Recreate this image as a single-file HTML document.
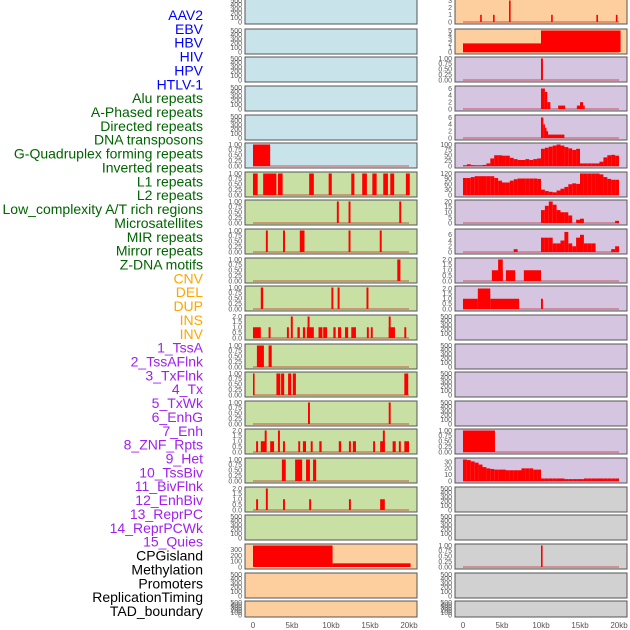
<!DOCTYPE html>
<html><head><meta charset="utf-8"><style>
html,body{margin:0;padding:0;background:#fff;}
svg{display:block;font-family:"Liberation Sans",sans-serif;}
</style></head><body>
<svg id="chart" width="630" height="630" viewBox="0 0 630 630" xmlns="http://www.w3.org/2000/svg"></svg>
<script>
// ---- data ----
const trackLabels = ["AAV2","EBV","HBV","HIV","HPV","HTLV-1","Alu repeats","A-Phased repeats","Directed repeats","DNA transposons","G-Quadruplex forming repeats","Inverted repeats","L1 repeats","L2 repeats","Low_complexity A/T rich regions","Microsatellites","MIR repeats","Mirror repeats","Z-DNA motifs","CNV","DEL","DUP","INS","INV","1_TssA","2_TssAFlnk","3_TxFlnk","4_Tx","5_TxWk","6_EnhG","7_Enh","8_ZNF_Rpts","9_Het","10_TssBiv","11_BivFlnk","12_EnhBiv","13_ReprPC","14_ReprPCWk","15_Quies","CPGisland","Methylation","Promoters","ReplicationTiming","TAD_boundary"];
const labelColors = ["#0000ff","#0000ff","#0000ff","#0000ff","#0000ff","#0000ff","#006400","#006400","#006400","#006400","#006400","#006400","#006400","#006400","#006400","#006400","#006400","#006400","#006400","#ffa500","#ffa500","#ffa500","#ffa500","#ffa500","#a020f0","#a020f0","#a020f0","#a020f0","#a020f0","#a020f0","#a020f0","#a020f0","#a020f0","#a020f0","#a020f0","#a020f0","#a020f0","#a020f0","#a020f0","#000","#000","#000","#000","#000"];
const xTicks = [0,5,10,15,20];
const xTickLabels = ["0","5kb","10kb","15kb","20kb"];
// bars: [startKb, endKb, value]
const L6 = [[0,2.2,1]];
const L7 = [[0,0.6,1],[1.3,3.0,1],[3.2,3.8,1],[7.2,7.8,1],[9.7,10.1,1],[12.6,13.0,1],[14.0,14.6,1],[15.3,15.85,1],[16.7,17.3,1],[17.6,18.1,1],[19.6,20.1,1]];
const L8 = [[10.75,11.0,1],[12.25,12.5,1],[18.75,19.0,1]];
const L9 = [[1.65,1.9,1],[3.85,4.1,1],[6.0,6.6,1],[12.25,12.5,1],[16.25,16.5,1]];
const L10 = [[18.5,18.9,1]];
const L11 = [[1.0,1.3,1],[10.05,10.3,1],[10.85,11.1,1],[14.55,14.8,1]];
const L12 = [[0,1.0,1],[2.0,2.25,1],[4.35,4.6,1],[4.85,5.1,2],[5.7,6.0,1],[6.4,6.7,1],[6.9,7.8,1],[7.0,7.25,2],[8.4,8.9,1],[9.0,9.5,1],[10.3,10.6,1],[10.9,11.3,1],[11.8,12.2,1],[12.6,13.2,1],[14.6,14.85,1],[15.1,15.35,1],[17.4,18.2,1],[17.4,17.65,2],[19.4,19.65,1]];
const L13 = [[0.5,1.4,1],[2.0,2.4,1]];
const L14 = [[0,0.2,1],[3.0,3.5,1],[3.6,4.0,1],[4.5,4.9,1],[5.1,5.5,1],[19.4,19.9,1]];
const L15 = [[7.05,7.3,1],[17.4,17.65,1]];
const L16 = [[0.4,0.65,1],[1.0,1.25,1],[1.1,1.7,1],[1.5,1.75,2],[2.2,2.7,1],[3.2,3.45,2],[3.85,4.1,1],[5.8,6.05,1],[6.4,6.8,1],[7.4,7.65,1],[8.5,8.8,1],[11.0,11.3,1],[12.3,12.55,1],[12.8,13.2,1],[15.4,15.65,1],[16.3,16.9,1],[16.65,16.9,2],[17.9,18.3,1],[18.7,18.95,1],[19.4,20.0,1]];
const L17 = [[3.7,4.2,1],[5.4,6.3,1],[6.8,7.3,1],[7.7,8.1,1]];
const L18 = [[0.4,0.65,1],[1.65,1.9,2],[3.85,4.1,1],[7.2,7.45,1],[12.3,12.55,1],[16.3,16.9,1]];
const L20 = [[0,10.2,375],[10.2,20.2,64]];
const R1 = [[2.2,2.4,1],[3.85,4.05,1],[5.9,6.1,3],[11.3,11.5,1],[17.1,17.3,1],[19.6,19.8,1]];
const R2 = [[0,10.0,2],[10.0,20.2,5]];
const R3 = [[10.0,10.25,1]];
const R4 = [[10.0,10.5,6],[10.5,10.8,5],[10.8,11.2,2],[12.2,13.1,1],[14.6,15.0,1],[15.0,15.4,2],[15.4,15.6,1]];
const R5 = [[10.0,10.3,6],[10.3,10.5,4],[10.5,10.7,3],[10.7,10.9,2],[10.9,13.0,1]];
// binned profiles (0.5 kb bins from 0 to 20 kb)
const R6 = [3,8,4,3,3,5,12,35,50,50,48,48,38,32,28,28,32,28,32,35,80,85,90,95,100,95,88,82,75,80,12,12,12,12,12,20,40,50,52,48];
const R7 = [95,95,100,105,105,105,105,105,95,80,70,70,80,88,92,92,92,92,92,90,30,22,18,15,25,35,45,60,65,62,120,120,120,120,120,115,100,90,85,85];
const R8 = [0,0,0,0,0,0,0,0,0,0,0,0,0,0,0,0,0,0,0,0,12,16,20,17,12,10,10,7,0,3,4,0,0,0,0,0,0,0,0,2];
const R9 = [0,0,0,0,0,0,0,0,0,0,0,0,0,1,0,0,0,0,0,0,5,5,5,3,3,4,7,3,2,5,6,3,3,3,0,0,0,0,1,2];
const R10 = [[3.7,5.1,1],[4.5,5.1,2],[5.5,6.7,1],[7.8,10.0,1]];
const R11 = [[0,1.9,1],[1.9,3.5,2],[3.5,7.2,1],[10.0,10.25,1]];
const R16 = [[0,4.1,1]];
const R17 = [34,33,31,29,26,22,20,19,18,18,18,17,17,17,17,20,20,20,18,18,4,4,4,4,4,4,3,3,3,3,3,4,4,4,4,4,4,4,4,4];
const R20 = [[10.0,10.2,1]];

const T1 = [[0,"0.00"],[0.25,"0.25"],[0.5,"0.50"],[0.75,"0.75"],[1,"1.00"]];
const T2 = [[0,"0.0"],[0.5,"0.5"],[1,"1.0"],[1.5,"1.5"],[2,"2.0"]];
const T500 = [[0,"0"],[100,"100"],[200,"200"],[300,"300"],[400,"400"],[500,"500"]];

const rowTops = [-1,29,57,86,115,143,172,200,229,258,286,315,344,372,401,429,458,487,515,544,573,601];
const BLUE="#c8e3ea", GREEN="#c8e0a4", ORANGE="#fecf9e", PURPLE="#d5c5e1", GRAY="#d1d1d1";
function binsToBars(arr){const out=[];for(let i=0;i<arr.length;i++){if(arr[i]>0)out.push([i*0.5,(i+1)*0.5,arr[i]]);}return out;}
const leftPanels = [
 [BLUE,null,500,T500],[BLUE,null,500,T500],[BLUE,null,500,T500],[BLUE,null,500,T500],[BLUE,null,500,T500],
 [BLUE,L6,1,T1],[GREEN,L7,1,T1],[GREEN,L8,1,T1],[GREEN,L9,1,T1],[GREEN,L10,1,T1],[GREEN,L11,1,T1],
 [GREEN,L12,2,T2],[GREEN,L13,1,T1],[GREEN,L14,1,T1],[GREEN,L15,1,T1],[GREEN,L16,2,T2],[GREEN,L17,1,T1],[GREEN,L18,2,T2],
 [GREEN,null,500,T500],[ORANGE,L20,375,[[0,"0"],[100,"100"],[200,"200"],[300,"300"]]],[ORANGE,null,500,T500],[ORANGE,null,500,T500]
];
const rightPanels = [
 [ORANGE,R1,3,[[0,"0"],[1,"1"],[2,"2"],[3,"3"]]],
 [ORANGE,R2,5,[[0,"0"],[1,"1"],[2,"2"],[3,"3"],[4,"4"],[5,"5"]]],
 [PURPLE,R3,1,T1],
 [PURPLE,R4,6.3,[[0,"0"],[2,"2"],[4,"4"],[6,"6"]]],
 [PURPLE,R5,6.3,[[0,"0"],[2,"2"],[4,"4"],[6,"6"]]],
 [PURPLE,binsToBars(R6),100,[[0,"0"],[25,"25"],[50,"50"],[75,"75"],[100,"100"]]],
 [PURPLE,binsToBars(R7),120,[[0,"0"],[30,"30"],[60,"60"],[90,"90"],[120,"120"]]],
 [PURPLE,binsToBars(R8),20,[[0,"0"],[5,"5"],[10,"10"],[15,"15"],[20,"20"]]],
 [PURPLE,binsToBars(R9),7.5,[[0,"0"],[2,"2"],[4,"4"],[6,"6"]]],
 [PURPLE,R10,2,T2],[PURPLE,R11,2.1,T2],
 [PURPLE,null,500,T500],[PURPLE,null,500,T500],[PURPLE,null,500,T500],[PURPLE,null,500,T500],
 [PURPLE,R16,1,T1],
 [PURPLE,binsToBars(R17),34,[[0,"0"],[10,"10"],[20,"20"],[30,"30"]]],
 [GRAY,null,500,T500],[GRAY,null,500,T500],[GRAY,R20,1,T1],[GRAY,null,500,T500],[GRAY,null,500,T500]
];

const NS="http://www.w3.org/2000/svg";
const svg=document.getElementById('chart');
function mk(tag,attrs,parent){const e=document.createElementNS(NS,tag);for(const k in attrs)e.setAttribute(k,attrs[k]);(parent||svg).appendChild(e);return e;}

trackLabels.forEach((t,i)=>{
  const el=mk('text',{x:203,y:(15+i*13.86+5).toFixed(1),'text-anchor':'end','font-size':'14',fill:labelColors[i]});
  el.textContent=t;
  
  
});

function drawPanel(p,row,side){
  const [bg,bars,ymax,ticks]=p;
  const px = side==='left'?245:455;
  const w=172;
  const top=rowTops[row];
  const h=row===21?16:25;
  const x0=px+8, kbW=7.8;
  const xs=kb=>x0+kb*kbW;
  const y0=top+h-2, y1=top+1.5;
  const ys=v=>y0-(v/ymax)*(y0-y1);
  const g=mk('g',{});
  
  
  mk('rect',{x:px,y:top,width:w,height:h,fill:bg,stroke:'#555','stroke-width':1},g);
  if(bars){
    if(!(side==='left'&&row===19)) mk('line',{x1:xs(0),x2:xs(20),y1:y0,y2:y0,stroke:'rgba(190,0,0,0.4)','stroke-width':1.5},g);
    bars.forEach(b=>{
      const r=mk('rect',{x:xs(b[0]).toFixed(2),y:ys(Math.min(b[2],ymax*1.04)).toFixed(2),width:Math.max(1.6,(b[1]-b[0])*kbW).toFixed(2),height:(y0-ys(Math.min(b[2],ymax*1.04))).toFixed(2),fill:'#ff0000'},g);
      
      
    });
  }
  ticks.forEach(t=>{
    const tx=mk('text',{x:px-3,y:(ys(t[0])+2.3).toFixed(1),'text-anchor':'end','font-size':'7',fill:'#555'},g);
    tx.textContent=t[1];
    
    
  });
}
leftPanels.forEach((p,i)=>drawPanel(p,i,'left'));
rightPanels.forEach((p,i)=>drawPanel(p,i,'right'));

['left','right'].forEach(side=>{
  const x0=side==='left'?253:463;
  xTicks.forEach((k,i)=>{
    const t=mk('text',{x:x0+k*7.8,y:628,'text-anchor':'middle','font-size':'8',fill:'#555'});
    t.textContent=xTickLabels[i];
    
    
  });
});
</script>
</body></html>
